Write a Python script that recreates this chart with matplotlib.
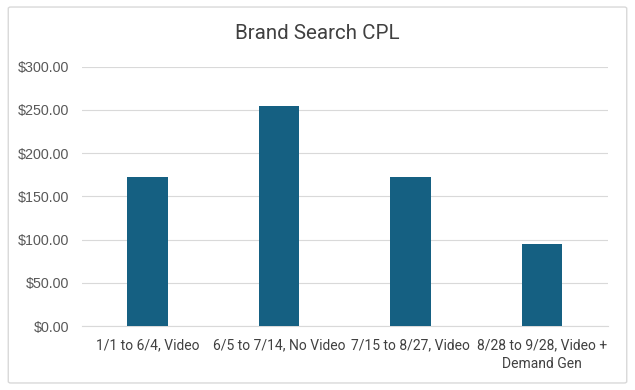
import matplotlib.pyplot as plt
from matplotlib.patches import FancyBboxPatch

periodos = ['1/1 to 6/4, Video', '6/5 to 7/14, No Video', '7/15 to 8/27, Video',
            '8/28 to 9/28, Video +\nDemand Gen']
cpl = [172.5, 254.7, 172.5, 94.9]
ticks_y = [0, 50, 100, 150, 200, 250, 300]

fig = plt.figure(figsize=(6.35, 3.9), dpi=100)
ax = fig.add_axes([0.129, 0.164, 0.828, 0.665])

# marco exterior del grafico
fig.patches.append(FancyBboxPatch((0.013, 0.018), 0.974, 0.964, boxstyle='round,pad=0,rounding_size=0.004',
                                  transform=fig.transFigure, facecolor='none', edgecolor='#d9d9d9', linewidth=1))

x = range(len(periodos))
ax.bar(x, cpl, width=0.31, color='#156082', zorder=3)

ax.set_xlim(-0.5, len(periodos) - 0.5)
ax.set_ylim(0, 300)
ax.set_yticks(ticks_y)
ax.set_yticklabels([f'${v:,.2f}' for v in ticks_y], fontsize=10.3, color='#595959', family='Liberation Sans')
ax.set_xticks(list(x))
ax.set_xticklabels(periodos, fontsize=10, color='#404040', family='Roboto', linespacing=1.4)
ax.tick_params(axis='both', length=0)
ax.tick_params(axis='y', pad=9)
ax.tick_params(axis='x', pad=9)
ax.grid(axis='y', color='#d9d9d9', linewidth=0.8, zorder=0)
for lado in ['top', 'right', 'left']:
    ax.spines[lado].set_visible(False)
ax.spines['bottom'].set_color('#d9d9d9')
ax.spines['bottom'].set_linewidth(0.8)

fig.text(0.5, 0.915, 'Brand Search CPL', ha='center', va='center', fontsize=14.8, color='#404040', family='Roboto')

fig.savefig('out.png', dpi=100)
